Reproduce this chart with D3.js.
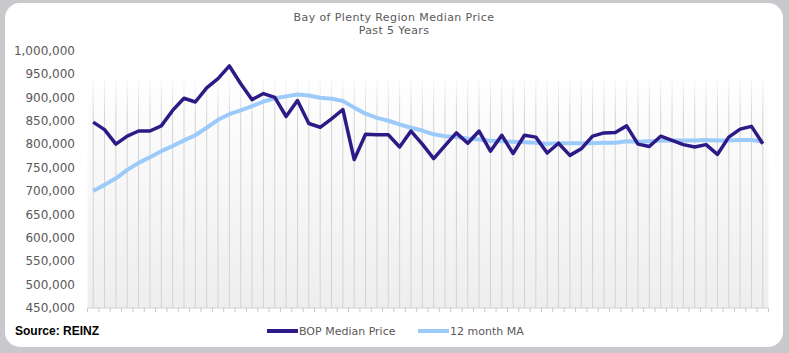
<!DOCTYPE html>
<html>
<head>
<meta charset="utf-8">
<script src="https://cdn.jsdelivr.net/npm/d3@7"></script>
<style>
  body { margin: 0; background: #c9c8cd; }
  svg { display: block; }
</style>
</head>
<body>
<svg id="main-vis" width="789" height="353"></svg>
<script>
var margin = ({top: 50.5, right: 20.5, bottom: 45, left: 87.5})
var width = 789;
var height = 353;

// monthly points, last 5 years (no x labels shown on the chart)
var months = d3.range(60);

var medianPrice = [
  847000, 831000, 800000, 817000, 828000, 828000, 839000, 872000, 898000, 890000,
  920000, 940000, 967000, 929000, 895000, 908000, 900000, 859000, 893000, 844000,
  836000, 854000, 874000, 767000, 821000, 820000, 820000, 794000, 828000, 800000,
  769000, 797000, 824000, 802000, 828000, 785000, 819000, 780000, 819000, 815000,
  781000, 802000, 776000, 790000, 817000, 824000, 825000, 839000, 800000, 795000,
  817000, 808000, 799000, 794000, 799000, 778000, 815000, 832000, 838000, 801000
];

var movingAvg = [
  700000, 713000, 727000, 745000, 760000, 772000, 785000, 796000, 808000, 819000,
  835000, 852000, 864000, 872000, 881000, 891000, 898000, 902000, 906000, 904000,
  899000, 897000, 892000, 878000, 865000, 856000, 850000, 842000, 835000, 829000,
  821000, 817000, 815000, 812000, 810000, 807000, 806000, 805000, 804000, 803000,
  801000, 802000, 802000, 802000, 802000, 803000, 803000, 806000, 805000, 806000,
  807000, 808000, 808000, 808000, 809000, 808000, 808000, 809000, 809000, 805000
];

var yTicks = [450000, 500000, 550000, 600000, 650000, 700000, 750000, 800000, 850000, 900000, 950000, 1000000];
var seriesNames = ['BOP Median Price', '12 month MA'];
var seriesColors = ['#2e1a87', '#9ccbfa'];

var svg = d3.select('#main-vis');

// card
svg.append('rect')
  .attr('x', 5).attr('y', 3)
  .attr('width', 778).attr('height', 344)
  .attr('rx', 15)
  .attr('fill', '#ffffff');

var x = d3.scaleBand()
  .domain(months)
  .range([margin.left, width - margin.right]);

var y = d3.scaleLinear()
  .domain([450000, 1000000])
  .range([height - margin.bottom, margin.top]);

var defs = svg.append('defs');
var grad = defs.append('linearGradient')
  .attr('id', 'bg').attr('x1', 0).attr('y1', 0).attr('x2', 0).attr('y2', 1);
grad.append('stop').attr('offset', '0%').attr('stop-color', '#ffffff');
grad.append('stop').attr('offset', '100%').attr('stop-color', '#eeeeee');

// grid lines fade in from the top
var gridGrad = defs.append('linearGradient')
  .attr('id', 'gridfade')
  .attr('gradientUnits', 'userSpaceOnUse')
  .attr('x1', 0).attr('x2', 0)
  .attr('y1', y(950000)).attr('y2', y(860000));
gridGrad.append('stop').attr('offset', '0%').attr('stop-color', '#d3d3d3').attr('stop-opacity', 0);
gridGrad.append('stop').attr('offset', '100%').attr('stop-color', '#d3d3d3').attr('stop-opacity', 1);

// shaded plot area
svg.append('rect')
  .attr('x', x.range()[0])
  .attr('y', y(950000))
  .attr('width', x.range()[1] - x.range()[0])
  .attr('height', y(450000) - y(950000))
  .attr('fill', 'url(#bg)');

// vertical grid lines at each month
svg.selectAll('.grid')
  .data(months)
  .enter()
  .append('rect')
    .attr('class', 'grid')
    .attr('x', d => x(d) + x.bandwidth() / 2 - 0.5)
    .attr('width', 1)
    .attr('y', y(950000))
    .attr('height', y(450000) - y(950000))
    .attr('fill', 'url(#gridfade)');

// x axis line + ticks between months
svg.append('line')
  .attr('x1', x.range()[0]).attr('x2', x.range()[1])
  .attr('y1', y(450000)).attr('y2', y(450000))
  .style('stroke', '#d0d0d0');

svg.selectAll('.xtick')
  .data(d3.range(months.length + 1))
  .enter()
  .append('line')
    .attr('class', 'xtick')
    .attr('x1', i => x.range()[0] + i * x.bandwidth())
    .attr('x2', i => x.range()[0] + i * x.bandwidth())
    .attr('y1', y(450000))
    .attr('y2', y(450000) + 4)
    .style('stroke', '#c8c8c8');

// y labels
svg.selectAll('.ylab')
  .data(yTicks)
  .enter()
  .append('text')
    .attr('class', 'ylab')
    .attr('x', 75)
    .attr('y', d => y(d))
    .attr('dy', '0.35em')
    .attr('text-anchor', 'end')
    .attr('style', 'font-family: "DejaVu Sans"; font-size: 12px; fill: #595959;')
    .text(d => d3.format(',')(d));

var line = d3.line()
  .x((d, i) => x(months[i]) + x.bandwidth() / 2)
  .y(d => y(d));

svg.append('path')
  .datum(movingAvg)
  .attr('fill', 'none')
  .attr('stroke', seriesColors[1])
  .attr('stroke-width', 4)
  .attr('stroke-linejoin', 'round')
  .attr('d', line);

svg.append('path')
  .datum(medianPrice)
  .attr('fill', 'none')
  .attr('stroke', seriesColors[0])
  .attr('stroke-width', 3.5)
  .attr('stroke-linejoin', 'round')
  .attr('d', line);

// title
svg.append('text')
  .attr('x', 394).attr('y', 21)
  .attr('text-anchor', 'middle')
  .attr('style', 'font-family: "DejaVu Sans"; font-size: 11px; letter-spacing: 0.4px; fill: #595959;')
  .text('Bay of Plenty Region Median Price');
svg.append('text')
  .attr('x', 394).attr('y', 34)
  .attr('text-anchor', 'middle')
  .attr('style', 'font-family: "DejaVu Sans"; font-size: 11px; letter-spacing: 0.4px; fill: #595959;')
  .text('Past 5 Years');

// source
svg.append('text')
  .attr('x', 15).attr('y', 335)
  .attr('style', 'font-family: "Liberation Sans"; font-weight: bold; font-size: 12px; fill: #000;')
  .text('Source: REINZ');

// legend
var legendX = [267, 418];
var leg = svg.selectAll('.legend')
  .data(seriesNames)
  .enter()
  .append('g')
    .attr('class', 'legend')
    .attr('transform', (d, i) => `translate(${legendX[i]},331)`);
leg.append('line')
  .attr('x1', 0).attr('x2', 31)
  .attr('y1', 0).attr('y2', 0)
  .style('stroke', (d, i) => seriesColors[i])
  .style('stroke-width', 4);
leg.append('text')
  .attr('x', 32).attr('y', 0)
  .attr('dy', '0.35em')
  .attr('style', 'font-family: "DejaVu Sans"; font-size: 11px; fill: #595959;')
  .text(d => d);
</script>
</body>
</html>
